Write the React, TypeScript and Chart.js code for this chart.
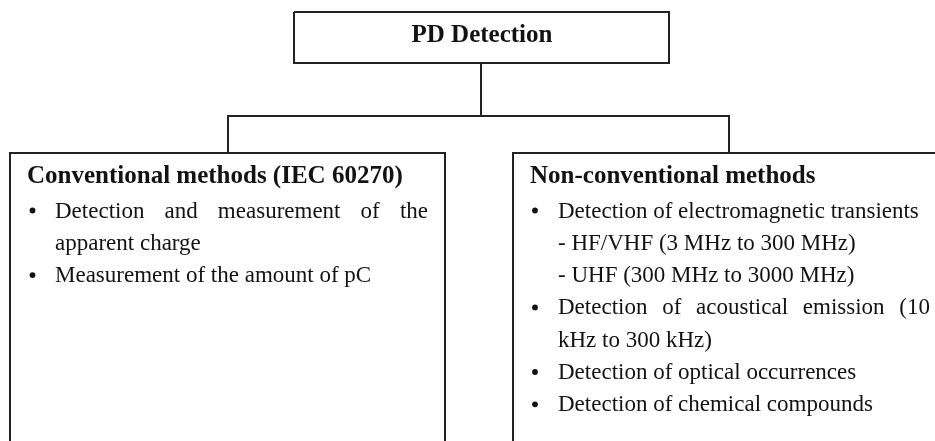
import React, { useEffect, useRef } from "react";
import { Chart, registerables } from "chart.js";

Chart.register(...registerables);

// ---- content ----
const rootLabel = "PD Detection";
const leftTitle = "Conventional methods (IEC 60270)";
const leftItems = [
  { bullet: true, lines: ["Detection and measurement of the", "apparent charge"] },
  { bullet: true, lines: ["Measurement of the amount of pC"] },
];
const rightTitle = "Non-conventional methods";
const rightItems = [
  { bullet: true, lines: ["Detection of electromagnetic transients"] },
  { bullet: false, lines: ["- HF/VHF (3 MHz to 300 MHz)"] },
  { bullet: false, lines: ["- UHF (300 MHz to 3000 MHz)"] },
  { bullet: true, lines: ["Detection of acoustical emission (10", "kHz to 300 kHz)"] },
  { bullet: true, lines: ["Detection of optical occurrences"] },
  { bullet: true, lines: ["Detection of chemical compounds"] },
];

// ---- diagram outline (in scale units) ----
const rootBoxX = [294, 669, 669, 294, 294];
const rootBoxY = [12, 12, 63, 63, 12];
const stemX = [481, 481];
const stemY = [63, 116];
const bracketX = [228, 228, 729, 729];
const bracketY = [153, 116, 116, 153];
const leftBoxX = [10, 10, 445, 445];
const leftBoxY = [460, 153, 153, 460];
const rightBoxX = [960, 513, 513];
const rightBoxY = [153, 153, 460];

const W = 935;
const H = 441;
const LINE = "#222222";
const INK = "#121212";
const SERIF = '"Liberation Serif", "Times New Roman", serif';

function toPts(xs: number[], ys: number[]) {
  return xs.map((x, i) => ({ x, y: ys[i] }));
}

export default function App() {
  const ref = useRef<HTMLCanvasElement | null>(null);

  useEffect(() => {
    document.body.style.margin = "0";
    const canvas = ref.current;
    if (!canvas) return;

    const textPlugin = {
      id: "diagramText",
      afterDatasetsDraw(chart: any) {
        const ctx = chart.ctx as CanvasRenderingContext2D;
        const sx = chart.scales.x;
        const sy = chart.scales.y;
        const px = (v: number) => sx.getPixelForValue(v);
        const py = (v: number) => sy.getPixelForValue(v);
        ctx.save();
        ctx.fillStyle = INK;
        ctx.textBaseline = "alphabetic";

        // root label
        ctx.font = `bold 25px ${SERIF}`;
        ctx.textAlign = "center";
        ctx.fillText(rootLabel, px(482), py(42));
        ctx.textAlign = "left";

        const drawJustified = (s: string, x: number, y: number, right: number) => {
          const words = s.split(" ");
          const total = words.reduce((a, w) => a + ctx.measureText(w).width, 0);
          const gap = (right - x - total) / (words.length - 1);
          let cx = x;
          words.forEach((w) => {
            ctx.fillText(w, cx, y);
            cx += ctx.measureText(w).width + gap;
          });
        };

        const drawColumn = (
          title: string,
          items: { bullet: boolean; lines: string[] }[],
          titleX: number,
          bulletX: number,
          textX: number,
          rightX: number
        ) => {
          ctx.font = `bold 25px ${SERIF}`;
          ctx.fillText(title, px(titleX), py(183));
          ctx.font = `23px ${SERIF}`;
          let row = 0;
          items.forEach((it) => {
            it.lines.forEach((ln, i) => {
              const y = 217.5 + row * 32.3;
              if (i === 0 && it.bullet) {
                ctx.beginPath();
                ctx.arc(px(bulletX), py(y - 7), 2.9, 0, Math.PI * 2);
                ctx.fill();
              }
              if (i < it.lines.length - 1) {
                drawJustified(ln, px(textX), py(y), px(rightX));
              } else {
                ctx.fillText(ln, px(textX), py(y));
              }
              row++;
            });
          });
        };

        drawColumn(leftTitle, leftItems, 27, 32.5, 55, 428);
        drawColumn(rightTitle, rightItems, 530, 535, 558, 930);
        ctx.restore();
      },
    };

    const seg = (xs: number[], ys: number[]) => ({
      type: "line" as const,
      data: toPts(xs, ys),
      borderColor: LINE,
      borderWidth: 2,
      pointRadius: 0,
      fill: false,
      tension: 0,
    });

    const chart = new Chart(canvas, {
      type: "scatter",
      data: {
        datasets: [
          seg(rootBoxX, rootBoxY),
          seg(stemX, stemY),
          seg(bracketX, bracketY),
          seg(leftBoxX, leftBoxY),
          seg(rightBoxX, rightBoxY),
        ] as any,
      },
      options: {
        animation: false,
        responsive: false,
        maintainAspectRatio: false,
        showLine: true,
        layout: { padding: 0 },
        plugins: { legend: { display: false }, tooltip: { enabled: false } },
        scales: {
          x: { type: "linear", min: 0, max: W, display: false },
          y: { type: "linear", min: 0, max: H, reverse: true, display: false },
        },
        events: [],
      } as any,
      plugins: [textPlugin],
    });
    return () => chart.destroy();
  }, []);

  return (
    <div style={{ position: "absolute", left: 0, top: 0, width: W, height: H, background: "#fff" }}>
      <canvas ref={ref} width={W} height={H} style={{ width: W, height: H, display: "block" }} />
    </div>
  );
}
